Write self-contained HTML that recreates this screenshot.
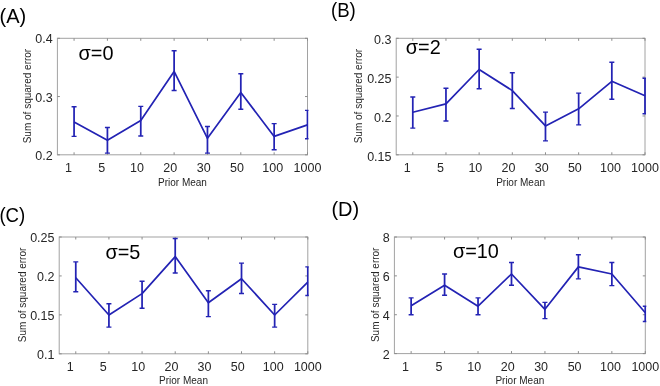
<!DOCTYPE html>
<html><head><meta charset="utf-8"><style>
html,body{margin:0;padding:0;background:#fff;width:660px;height:386px;overflow:hidden}
svg{display:block;will-change:transform}
text{font-family:"Liberation Sans",sans-serif}
.tk{font-size:12.5px;fill:#262626}
.lb{font-size:10px;fill:#262626}
.sg{font-size:21px;fill:#000}
.pl{font-size:20px;fill:#000}
</style></head><body>
<svg width="660" height="386" viewBox="0 0 660 386">
<defs><clipPath id="clipA"><rect x="56.40" y="37.30" width="252.10" height="118.50"/></clipPath><clipPath id="clipB"><rect x="395.20" y="37.30" width="250.80" height="118.50"/></clipPath><clipPath id="clipC"><rect x="58.20" y="236.00" width="250.60" height="118.80"/></clipPath><clipPath id="clipD"><rect x="393.40" y="236.00" width="252.90" height="118.60"/></clipPath></defs>
<rect width="660" height="386" fill="#fff"/>
<rect x="57.40" y="38.30" width="250.10" height="116.50" fill="none" stroke="#a2a2a2" stroke-width="1"/>
<line x1="74.07" y1="154.80" x2="74.07" y2="152.30" stroke="#8c8c8c" stroke-width="1"/>
<line x1="74.07" y1="38.30" x2="74.07" y2="40.80" stroke="#8c8c8c" stroke-width="1"/>
<line x1="107.42" y1="154.80" x2="107.42" y2="152.30" stroke="#8c8c8c" stroke-width="1"/>
<line x1="107.42" y1="38.30" x2="107.42" y2="40.80" stroke="#8c8c8c" stroke-width="1"/>
<line x1="140.77" y1="154.80" x2="140.77" y2="152.30" stroke="#8c8c8c" stroke-width="1"/>
<line x1="140.77" y1="38.30" x2="140.77" y2="40.80" stroke="#8c8c8c" stroke-width="1"/>
<line x1="174.11" y1="154.80" x2="174.11" y2="152.30" stroke="#8c8c8c" stroke-width="1"/>
<line x1="174.11" y1="38.30" x2="174.11" y2="40.80" stroke="#8c8c8c" stroke-width="1"/>
<line x1="207.46" y1="154.80" x2="207.46" y2="152.30" stroke="#8c8c8c" stroke-width="1"/>
<line x1="207.46" y1="38.30" x2="207.46" y2="40.80" stroke="#8c8c8c" stroke-width="1"/>
<line x1="240.81" y1="154.80" x2="240.81" y2="152.30" stroke="#8c8c8c" stroke-width="1"/>
<line x1="240.81" y1="38.30" x2="240.81" y2="40.80" stroke="#8c8c8c" stroke-width="1"/>
<line x1="274.15" y1="154.80" x2="274.15" y2="152.30" stroke="#8c8c8c" stroke-width="1"/>
<line x1="274.15" y1="38.30" x2="274.15" y2="40.80" stroke="#8c8c8c" stroke-width="1"/>
<line x1="307.50" y1="154.80" x2="307.50" y2="152.30" stroke="#8c8c8c" stroke-width="1"/>
<line x1="307.50" y1="38.30" x2="307.50" y2="40.80" stroke="#8c8c8c" stroke-width="1"/>
<line x1="57.40" y1="38.30" x2="59.90" y2="38.30" stroke="#8c8c8c" stroke-width="1"/>
<line x1="307.50" y1="38.30" x2="305.00" y2="38.30" stroke="#8c8c8c" stroke-width="1"/>
<line x1="57.40" y1="96.55" x2="59.90" y2="96.55" stroke="#8c8c8c" stroke-width="1"/>
<line x1="307.50" y1="96.55" x2="305.00" y2="96.55" stroke="#8c8c8c" stroke-width="1"/>
<line x1="57.40" y1="154.80" x2="59.90" y2="154.80" stroke="#8c8c8c" stroke-width="1"/>
<line x1="307.50" y1="154.80" x2="305.00" y2="154.80" stroke="#8c8c8c" stroke-width="1"/>
<text x="52.70" y="43.40" text-anchor="end" class="tk">0.4</text>
<text x="52.70" y="101.65" text-anchor="end" class="tk">0.3</text>
<text x="52.70" y="159.90" text-anchor="end" class="tk">0.2</text>
<text x="68.47" y="172.00" text-anchor="middle" class="tk">1</text>
<text x="101.82" y="172.00" text-anchor="middle" class="tk">5</text>
<text x="136.97" y="172.00" text-anchor="middle" class="tk">10</text>
<text x="170.31" y="172.00" text-anchor="middle" class="tk">20</text>
<text x="203.66" y="172.00" text-anchor="middle" class="tk">30</text>
<text x="237.01" y="172.00" text-anchor="middle" class="tk">50</text>
<text x="272.75" y="172.00" text-anchor="middle" class="tk">100</text>
<text x="307.50" y="172.00" text-anchor="middle" class="tk">1000</text>
<text x="182.45" y="185.70" text-anchor="middle" class="lb">Prior Mean</text>
<text transform="translate(30.80,96.05) rotate(-90)" x="0" y="0" text-anchor="middle" class="lb">Sum of squared error</text>
<g clip-path="url(#clipA)"><polyline points="74.07,122.00 107.42,140.30 140.77,120.60 174.11,71.40 207.46,138.30 240.81,92.50 274.15,136.40 307.50,124.90" fill="none" stroke="#2323b4" stroke-width="1.7" stroke-linejoin="round"/><path d="M74.07 106.80V136.40M107.42 127.50V153.10M140.77 106.40V136.00M174.11 50.80V90.50M207.46 126.50V153.10M240.81 73.80V109.20M274.15 123.60V149.80M307.50 110.40V138.70" fill="none" stroke="#2323b4" stroke-width="1.75"/><path d="M71.57 106.80H76.57M71.57 136.40H76.57M104.92 127.50H109.92M104.92 153.10H109.92M138.27 106.40H143.27M138.27 136.00H143.27M171.61 50.80H176.61M171.61 90.50H176.61M204.96 126.50H209.96M204.96 153.10H209.96M238.31 73.80H243.31M238.31 109.20H243.31M271.65 123.60H276.65M271.65 149.80H276.65M305.00 110.40H310.00M305.00 138.70H310.00" fill="none" stroke="#2323b4" stroke-width="1.4"/></g>
<text transform="translate(78.60,59.70) scale(0.945,1)" class="sg">σ=0</text>
<text transform="translate(-0.50,22.50) scale(1.0,1)" class="pl">(A)</text>
<rect x="396.20" y="38.30" width="248.80" height="116.50" fill="none" stroke="#a2a2a2" stroke-width="1"/>
<line x1="412.79" y1="154.80" x2="412.79" y2="152.30" stroke="#8c8c8c" stroke-width="1"/>
<line x1="412.79" y1="38.30" x2="412.79" y2="40.80" stroke="#8c8c8c" stroke-width="1"/>
<line x1="445.96" y1="154.80" x2="445.96" y2="152.30" stroke="#8c8c8c" stroke-width="1"/>
<line x1="445.96" y1="38.30" x2="445.96" y2="40.80" stroke="#8c8c8c" stroke-width="1"/>
<line x1="479.13" y1="154.80" x2="479.13" y2="152.30" stroke="#8c8c8c" stroke-width="1"/>
<line x1="479.13" y1="38.30" x2="479.13" y2="40.80" stroke="#8c8c8c" stroke-width="1"/>
<line x1="512.31" y1="154.80" x2="512.31" y2="152.30" stroke="#8c8c8c" stroke-width="1"/>
<line x1="512.31" y1="38.30" x2="512.31" y2="40.80" stroke="#8c8c8c" stroke-width="1"/>
<line x1="545.48" y1="154.80" x2="545.48" y2="152.30" stroke="#8c8c8c" stroke-width="1"/>
<line x1="545.48" y1="38.30" x2="545.48" y2="40.80" stroke="#8c8c8c" stroke-width="1"/>
<line x1="578.65" y1="154.80" x2="578.65" y2="152.30" stroke="#8c8c8c" stroke-width="1"/>
<line x1="578.65" y1="38.30" x2="578.65" y2="40.80" stroke="#8c8c8c" stroke-width="1"/>
<line x1="611.83" y1="154.80" x2="611.83" y2="152.30" stroke="#8c8c8c" stroke-width="1"/>
<line x1="611.83" y1="38.30" x2="611.83" y2="40.80" stroke="#8c8c8c" stroke-width="1"/>
<line x1="645.00" y1="154.80" x2="645.00" y2="152.30" stroke="#8c8c8c" stroke-width="1"/>
<line x1="645.00" y1="38.30" x2="645.00" y2="40.80" stroke="#8c8c8c" stroke-width="1"/>
<line x1="396.20" y1="38.30" x2="398.70" y2="38.30" stroke="#8c8c8c" stroke-width="1"/>
<line x1="645.00" y1="38.30" x2="642.50" y2="38.30" stroke="#8c8c8c" stroke-width="1"/>
<line x1="396.20" y1="77.13" x2="398.70" y2="77.13" stroke="#8c8c8c" stroke-width="1"/>
<line x1="645.00" y1="77.13" x2="642.50" y2="77.13" stroke="#8c8c8c" stroke-width="1"/>
<line x1="396.20" y1="115.97" x2="398.70" y2="115.97" stroke="#8c8c8c" stroke-width="1"/>
<line x1="645.00" y1="115.97" x2="642.50" y2="115.97" stroke="#8c8c8c" stroke-width="1"/>
<line x1="396.20" y1="154.80" x2="398.70" y2="154.80" stroke="#8c8c8c" stroke-width="1"/>
<line x1="645.00" y1="154.80" x2="642.50" y2="154.80" stroke="#8c8c8c" stroke-width="1"/>
<text x="391.50" y="44.10" text-anchor="end" class="tk">0.3</text>
<text x="391.50" y="82.93" text-anchor="end" class="tk">0.25</text>
<text x="391.50" y="121.77" text-anchor="end" class="tk">0.2</text>
<text x="391.50" y="160.60" text-anchor="end" class="tk">0.15</text>
<text x="407.19" y="172.00" text-anchor="middle" class="tk">1</text>
<text x="440.36" y="172.00" text-anchor="middle" class="tk">5</text>
<text x="475.33" y="172.00" text-anchor="middle" class="tk">10</text>
<text x="508.51" y="172.00" text-anchor="middle" class="tk">20</text>
<text x="541.68" y="172.00" text-anchor="middle" class="tk">30</text>
<text x="574.85" y="172.00" text-anchor="middle" class="tk">50</text>
<text x="610.43" y="172.00" text-anchor="middle" class="tk">100</text>
<text x="645.00" y="172.00" text-anchor="middle" class="tk">1000</text>
<text x="520.60" y="185.70" text-anchor="middle" class="lb">Prior Mean</text>
<text transform="translate(362.30,96.05) rotate(-90)" x="0" y="0" text-anchor="middle" class="lb">Sum of squared error</text>
<g clip-path="url(#clipB)"><polyline points="412.79,112.30 445.96,103.90 479.13,69.50 512.31,90.60 545.48,125.90 578.65,108.80 611.83,81.30 645.00,95.70" fill="none" stroke="#2323b4" stroke-width="1.7" stroke-linejoin="round"/><path d="M412.79 97.00V128.10M445.96 88.20V121.00M479.13 49.20V88.70M512.31 72.70V108.50M545.48 112.10V140.90M578.65 93.10V124.90M611.83 62.20V99.30M645.00 78.30V113.70" fill="none" stroke="#2323b4" stroke-width="1.75"/><path d="M410.29 97.00H415.29M410.29 128.10H415.29M443.46 88.20H448.46M443.46 121.00H448.46M476.63 49.20H481.63M476.63 88.70H481.63M509.81 72.70H514.81M509.81 108.50H514.81M542.98 112.10H547.98M542.98 140.90H547.98M576.15 93.10H581.15M576.15 124.90H581.15M609.33 62.20H614.33M609.33 99.30H614.33M642.50 78.30H647.50M642.50 113.70H647.50" fill="none" stroke="#2323b4" stroke-width="1.4"/></g>
<text transform="translate(405.80,53.50) scale(0.945,1)" class="sg">σ=2</text>
<text transform="translate(331.00,16.60) scale(0.93,1)" class="pl">(B)</text>
<rect x="59.20" y="237.00" width="248.60" height="116.80" fill="none" stroke="#a2a2a2" stroke-width="1"/>
<line x1="75.77" y1="353.80" x2="75.77" y2="351.30" stroke="#8c8c8c" stroke-width="1"/>
<line x1="75.77" y1="237.00" x2="75.77" y2="239.50" stroke="#8c8c8c" stroke-width="1"/>
<line x1="108.92" y1="353.80" x2="108.92" y2="351.30" stroke="#8c8c8c" stroke-width="1"/>
<line x1="108.92" y1="237.00" x2="108.92" y2="239.50" stroke="#8c8c8c" stroke-width="1"/>
<line x1="142.07" y1="353.80" x2="142.07" y2="351.30" stroke="#8c8c8c" stroke-width="1"/>
<line x1="142.07" y1="237.00" x2="142.07" y2="239.50" stroke="#8c8c8c" stroke-width="1"/>
<line x1="175.21" y1="353.80" x2="175.21" y2="351.30" stroke="#8c8c8c" stroke-width="1"/>
<line x1="175.21" y1="237.00" x2="175.21" y2="239.50" stroke="#8c8c8c" stroke-width="1"/>
<line x1="208.36" y1="353.80" x2="208.36" y2="351.30" stroke="#8c8c8c" stroke-width="1"/>
<line x1="208.36" y1="237.00" x2="208.36" y2="239.50" stroke="#8c8c8c" stroke-width="1"/>
<line x1="241.51" y1="353.80" x2="241.51" y2="351.30" stroke="#8c8c8c" stroke-width="1"/>
<line x1="241.51" y1="237.00" x2="241.51" y2="239.50" stroke="#8c8c8c" stroke-width="1"/>
<line x1="274.65" y1="353.80" x2="274.65" y2="351.30" stroke="#8c8c8c" stroke-width="1"/>
<line x1="274.65" y1="237.00" x2="274.65" y2="239.50" stroke="#8c8c8c" stroke-width="1"/>
<line x1="307.80" y1="353.80" x2="307.80" y2="351.30" stroke="#8c8c8c" stroke-width="1"/>
<line x1="307.80" y1="237.00" x2="307.80" y2="239.50" stroke="#8c8c8c" stroke-width="1"/>
<line x1="59.20" y1="237.00" x2="61.70" y2="237.00" stroke="#8c8c8c" stroke-width="1"/>
<line x1="307.80" y1="237.00" x2="305.30" y2="237.00" stroke="#8c8c8c" stroke-width="1"/>
<line x1="59.20" y1="275.93" x2="61.70" y2="275.93" stroke="#8c8c8c" stroke-width="1"/>
<line x1="307.80" y1="275.93" x2="305.30" y2="275.93" stroke="#8c8c8c" stroke-width="1"/>
<line x1="59.20" y1="314.87" x2="61.70" y2="314.87" stroke="#8c8c8c" stroke-width="1"/>
<line x1="307.80" y1="314.87" x2="305.30" y2="314.87" stroke="#8c8c8c" stroke-width="1"/>
<line x1="59.20" y1="353.80" x2="61.70" y2="353.80" stroke="#8c8c8c" stroke-width="1"/>
<line x1="307.80" y1="353.80" x2="305.30" y2="353.80" stroke="#8c8c8c" stroke-width="1"/>
<text x="54.50" y="242.10" text-anchor="end" class="tk">0.25</text>
<text x="54.50" y="281.03" text-anchor="end" class="tk">0.2</text>
<text x="54.50" y="319.97" text-anchor="end" class="tk">0.15</text>
<text x="54.50" y="358.90" text-anchor="end" class="tk">0.1</text>
<text x="70.17" y="370.70" text-anchor="middle" class="tk">1</text>
<text x="103.32" y="370.70" text-anchor="middle" class="tk">5</text>
<text x="138.27" y="370.70" text-anchor="middle" class="tk">10</text>
<text x="171.41" y="370.70" text-anchor="middle" class="tk">20</text>
<text x="204.56" y="370.70" text-anchor="middle" class="tk">30</text>
<text x="237.71" y="370.70" text-anchor="middle" class="tk">50</text>
<text x="273.25" y="370.70" text-anchor="middle" class="tk">100</text>
<text x="307.80" y="370.70" text-anchor="middle" class="tk">1000</text>
<text x="183.50" y="384.30" text-anchor="middle" class="lb">Prior Mean</text>
<text transform="translate(25.70,294.90) rotate(-90)" x="0" y="0" text-anchor="middle" class="lb">Sum of squared error</text>
<g clip-path="url(#clipC)"><polyline points="75.77,277.70 108.92,315.00 142.07,293.60 175.21,256.60 208.36,302.80 241.51,278.70 274.65,315.00 307.80,282.20" fill="none" stroke="#2323b4" stroke-width="1.7" stroke-linejoin="round"/><path d="M75.77 261.90V291.70M108.92 303.80V327.10M142.07 281.20V308.30M175.21 238.50V273.00M208.36 290.70V316.60M241.51 263.10V293.50M274.65 304.40V327.10M307.80 266.90V295.50" fill="none" stroke="#2323b4" stroke-width="1.75"/><path d="M73.27 261.90H78.27M73.27 291.70H78.27M106.42 303.80H111.42M106.42 327.10H111.42M139.57 281.20H144.57M139.57 308.30H144.57M172.71 238.50H177.71M172.71 273.00H177.71M205.86 290.70H210.86M205.86 316.60H210.86M239.01 263.10H244.01M239.01 293.50H244.01M272.15 304.40H277.15M272.15 327.10H277.15M305.30 266.90H310.30M305.30 295.50H310.30" fill="none" stroke="#2323b4" stroke-width="1.4"/></g>
<text transform="translate(105.50,258.80) scale(0.945,1)" class="sg">σ=5</text>
<text transform="translate(-0.60,222.00) scale(0.93,1)" class="pl">(C)</text>
<rect x="394.40" y="237.00" width="250.90" height="116.60" fill="none" stroke="#a2a2a2" stroke-width="1"/>
<line x1="411.13" y1="353.60" x2="411.13" y2="351.10" stroke="#8c8c8c" stroke-width="1"/>
<line x1="411.13" y1="237.00" x2="411.13" y2="239.50" stroke="#8c8c8c" stroke-width="1"/>
<line x1="444.58" y1="353.60" x2="444.58" y2="351.10" stroke="#8c8c8c" stroke-width="1"/>
<line x1="444.58" y1="237.00" x2="444.58" y2="239.50" stroke="#8c8c8c" stroke-width="1"/>
<line x1="478.03" y1="353.60" x2="478.03" y2="351.10" stroke="#8c8c8c" stroke-width="1"/>
<line x1="478.03" y1="237.00" x2="478.03" y2="239.50" stroke="#8c8c8c" stroke-width="1"/>
<line x1="511.49" y1="353.60" x2="511.49" y2="351.10" stroke="#8c8c8c" stroke-width="1"/>
<line x1="511.49" y1="237.00" x2="511.49" y2="239.50" stroke="#8c8c8c" stroke-width="1"/>
<line x1="544.94" y1="353.60" x2="544.94" y2="351.10" stroke="#8c8c8c" stroke-width="1"/>
<line x1="544.94" y1="237.00" x2="544.94" y2="239.50" stroke="#8c8c8c" stroke-width="1"/>
<line x1="578.39" y1="353.60" x2="578.39" y2="351.10" stroke="#8c8c8c" stroke-width="1"/>
<line x1="578.39" y1="237.00" x2="578.39" y2="239.50" stroke="#8c8c8c" stroke-width="1"/>
<line x1="611.85" y1="353.60" x2="611.85" y2="351.10" stroke="#8c8c8c" stroke-width="1"/>
<line x1="611.85" y1="237.00" x2="611.85" y2="239.50" stroke="#8c8c8c" stroke-width="1"/>
<line x1="645.30" y1="353.60" x2="645.30" y2="351.10" stroke="#8c8c8c" stroke-width="1"/>
<line x1="645.30" y1="237.00" x2="645.30" y2="239.50" stroke="#8c8c8c" stroke-width="1"/>
<line x1="394.40" y1="237.00" x2="396.90" y2="237.00" stroke="#8c8c8c" stroke-width="1"/>
<line x1="645.30" y1="237.00" x2="642.80" y2="237.00" stroke="#8c8c8c" stroke-width="1"/>
<line x1="394.40" y1="275.87" x2="396.90" y2="275.87" stroke="#8c8c8c" stroke-width="1"/>
<line x1="645.30" y1="275.87" x2="642.80" y2="275.87" stroke="#8c8c8c" stroke-width="1"/>
<line x1="394.40" y1="314.73" x2="396.90" y2="314.73" stroke="#8c8c8c" stroke-width="1"/>
<line x1="645.30" y1="314.73" x2="642.80" y2="314.73" stroke="#8c8c8c" stroke-width="1"/>
<line x1="394.40" y1="353.60" x2="396.90" y2="353.60" stroke="#8c8c8c" stroke-width="1"/>
<line x1="645.30" y1="353.60" x2="642.80" y2="353.60" stroke="#8c8c8c" stroke-width="1"/>
<text x="389.70" y="242.10" text-anchor="end" class="tk">8</text>
<text x="389.70" y="280.97" text-anchor="end" class="tk">6</text>
<text x="389.70" y="319.83" text-anchor="end" class="tk">4</text>
<text x="389.70" y="358.70" text-anchor="end" class="tk">2</text>
<text x="405.53" y="370.70" text-anchor="middle" class="tk">1</text>
<text x="438.98" y="370.70" text-anchor="middle" class="tk">5</text>
<text x="474.23" y="370.70" text-anchor="middle" class="tk">10</text>
<text x="507.69" y="370.70" text-anchor="middle" class="tk">20</text>
<text x="541.14" y="370.70" text-anchor="middle" class="tk">30</text>
<text x="574.59" y="370.70" text-anchor="middle" class="tk">50</text>
<text x="610.45" y="370.70" text-anchor="middle" class="tk">100</text>
<text x="645.30" y="370.70" text-anchor="middle" class="tk">1000</text>
<text x="519.85" y="384.30" text-anchor="middle" class="lb">Prior Mean</text>
<text transform="translate(378.50,294.80) rotate(-90)" x="0" y="0" text-anchor="middle" class="lb">Sum of squared error</text>
<g clip-path="url(#clipD)"><polyline points="411.13,305.80 444.58,285.20 478.03,306.20 511.49,274.00 544.94,309.30 578.39,266.90 611.85,274.00 645.30,312.70" fill="none" stroke="#2323b4" stroke-width="1.7" stroke-linejoin="round"/><path d="M411.13 297.90V314.70M444.58 274.00V295.20M478.03 297.90V314.70M511.49 262.50V285.20M544.94 302.40V318.60M578.39 254.70V278.90M611.85 262.50V285.60M645.30 306.20V321.50" fill="none" stroke="#2323b4" stroke-width="1.75"/><path d="M408.63 297.90H413.63M408.63 314.70H413.63M442.08 274.00H447.08M442.08 295.20H447.08M475.53 297.90H480.53M475.53 314.70H480.53M508.99 262.50H513.99M508.99 285.20H513.99M542.44 302.40H547.44M542.44 318.60H547.44M575.89 254.70H580.89M575.89 278.90H580.89M609.35 262.50H614.35M609.35 285.60H614.35M642.80 306.20H647.80M642.80 321.50H647.80" fill="none" stroke="#2323b4" stroke-width="1.4"/></g>
<text transform="translate(453.00,258.10) scale(0.945,1)" class="sg">σ=10</text>
<text transform="translate(331.40,216.40) scale(1.0,1)" class="pl">(D)</text>
</svg>
</body></html>
